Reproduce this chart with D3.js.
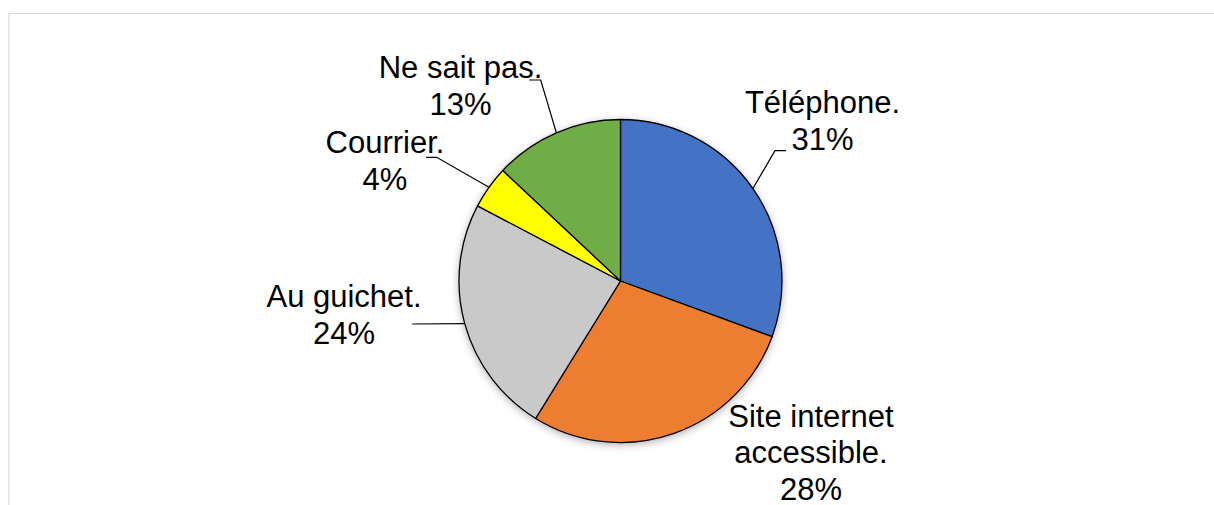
<!DOCTYPE html>
<html><head><meta charset="utf-8">
<script src="https://cdn.jsdelivr.net/npm/d3@7"></script>
<style>html,body{margin:0;padding:0;background:#fff;overflow:hidden}</style>
</head><body>
<svg id="chart" width="1214" height="505"></svg>
<script>
// ---- data ----
const categories = ["Téléphone.", "Site internet accessible.", "Au guichet.", "Courrier.", "Ne sait pas."];
const values = [30.6, 28.2, 23.9, 4.3, 13.0];
const colors = ["#4472C4", "#ED7D31", "#C9C9C9", "#FFFF00", "#70AD47"];
// label text lines (split of category name)
const labelLines = [["Téléphone."], ["Site internet", "accessible."], ["Au guichet."], ["Courrier."], ["Ne sait pas."]];

// ---- layout ----
const W = 1214, H = 505;
const cx = 620.5, cy = 281, R = 161.5;
const fontSize = 31, lineH = 36.5;
// label anchor (center x, first baseline) relative to pie center
const labelPos = [[202, -168], [190.5, 145.7], [-276.5, 26.3], [-235.5, -128], [-160, -203]];
// leader lines: elbow and end relative to pie center (null = no leader)
const leaders = [
  [[154.5, -130.3], [165.5, -130.3]],
  null,
  [[-208.2, 43], [-208.2, 43]],
  [[-183.8, -123.7], [-194.5, -123.7]],
  [[-79.8, -201], [-91.2, -201]]
];

const svg = d3.select("#chart");
svg.append("rect").attr("x", 0).attr("y", 0).attr("width", W).attr("height", H).attr("fill", "#fff");
svg.append("rect").attr("x", 9).attr("y", 13.5).attr("width", W).attr("height", H)
  .attr("fill", "none").attr("stroke", "#d9d9d9").attr("stroke-width", 1.2);

const defs = svg.append("defs");
const f = defs.append("filter").attr("id", "shadow").attr("x", "-20%").attr("y", "-20%").attr("width", "140%").attr("height", "140%");
f.append("feGaussianBlur").attr("in", "SourceAlpha").attr("stdDeviation", 4).attr("result", "b");
f.append("feOffset").attr("in", "b").attr("dx", 0).attr("dy", 2).attr("result", "o");
f.append("feComponentTransfer").attr("in", "o").attr("result", "s")
  .append("feFuncA").attr("type", "linear").attr("slope", 0.35);
const fm = f.append("feMerge");
fm.append("feMergeNode").attr("in", "s");
fm.append("feMergeNode").attr("in", "SourceGraphic");

const pie = d3.pie().sort(null).value(d => d);
const arcs = pie(values);
const arc = d3.arc().innerRadius(0).outerRadius(R);

const g = svg.append("g").attr("transform", `translate(${cx},${cy})`);
g.append("circle").attr("r", R).attr("fill", "#fff").attr("filter", "url(#shadow)");
g.selectAll("path.slice").data(arcs).enter().append("path")
  .attr("class", "slice")
  .attr("d", arc)
  .attr("fill", (d, i) => colors[i])
  .attr("stroke", "#000")
  .attr("stroke-width", 1.3)
  .attr("stroke-linejoin", "round");

const total = d3.sum(values);
const pct = v => Math.round(v / total * 100) + "%";

// leaders
arcs.forEach((d, i) => {
  const L = leaders[i];
  if (!L) return;
  const a = (d.startAngle + d.endAngle) / 2;
  const p0 = [Math.sin(a) * R, -Math.cos(a) * R];
  g.append("path")
    .attr("d", d3.line()([p0, L[0], L[1]]))
    .attr("fill", "none").attr("stroke", "#000").attr("stroke-width", 1.2);
});

// labels
arcs.forEach((d, i) => {
  const lines = labelLines[i].concat([pct(values[i])]);
  const t = g.append("text")
    .attr("text-anchor", "middle")
    .attr("font-family", "'Liberation Sans', Arial, sans-serif")
    .attr("font-size", fontSize)
    .attr("fill", "#000");
  lines.forEach((s, k) => {
    t.append("tspan").attr("x", labelPos[i][0]).attr("y", labelPos[i][1] + k * lineH).text(s);
  });
});
</script>
</body></html>
